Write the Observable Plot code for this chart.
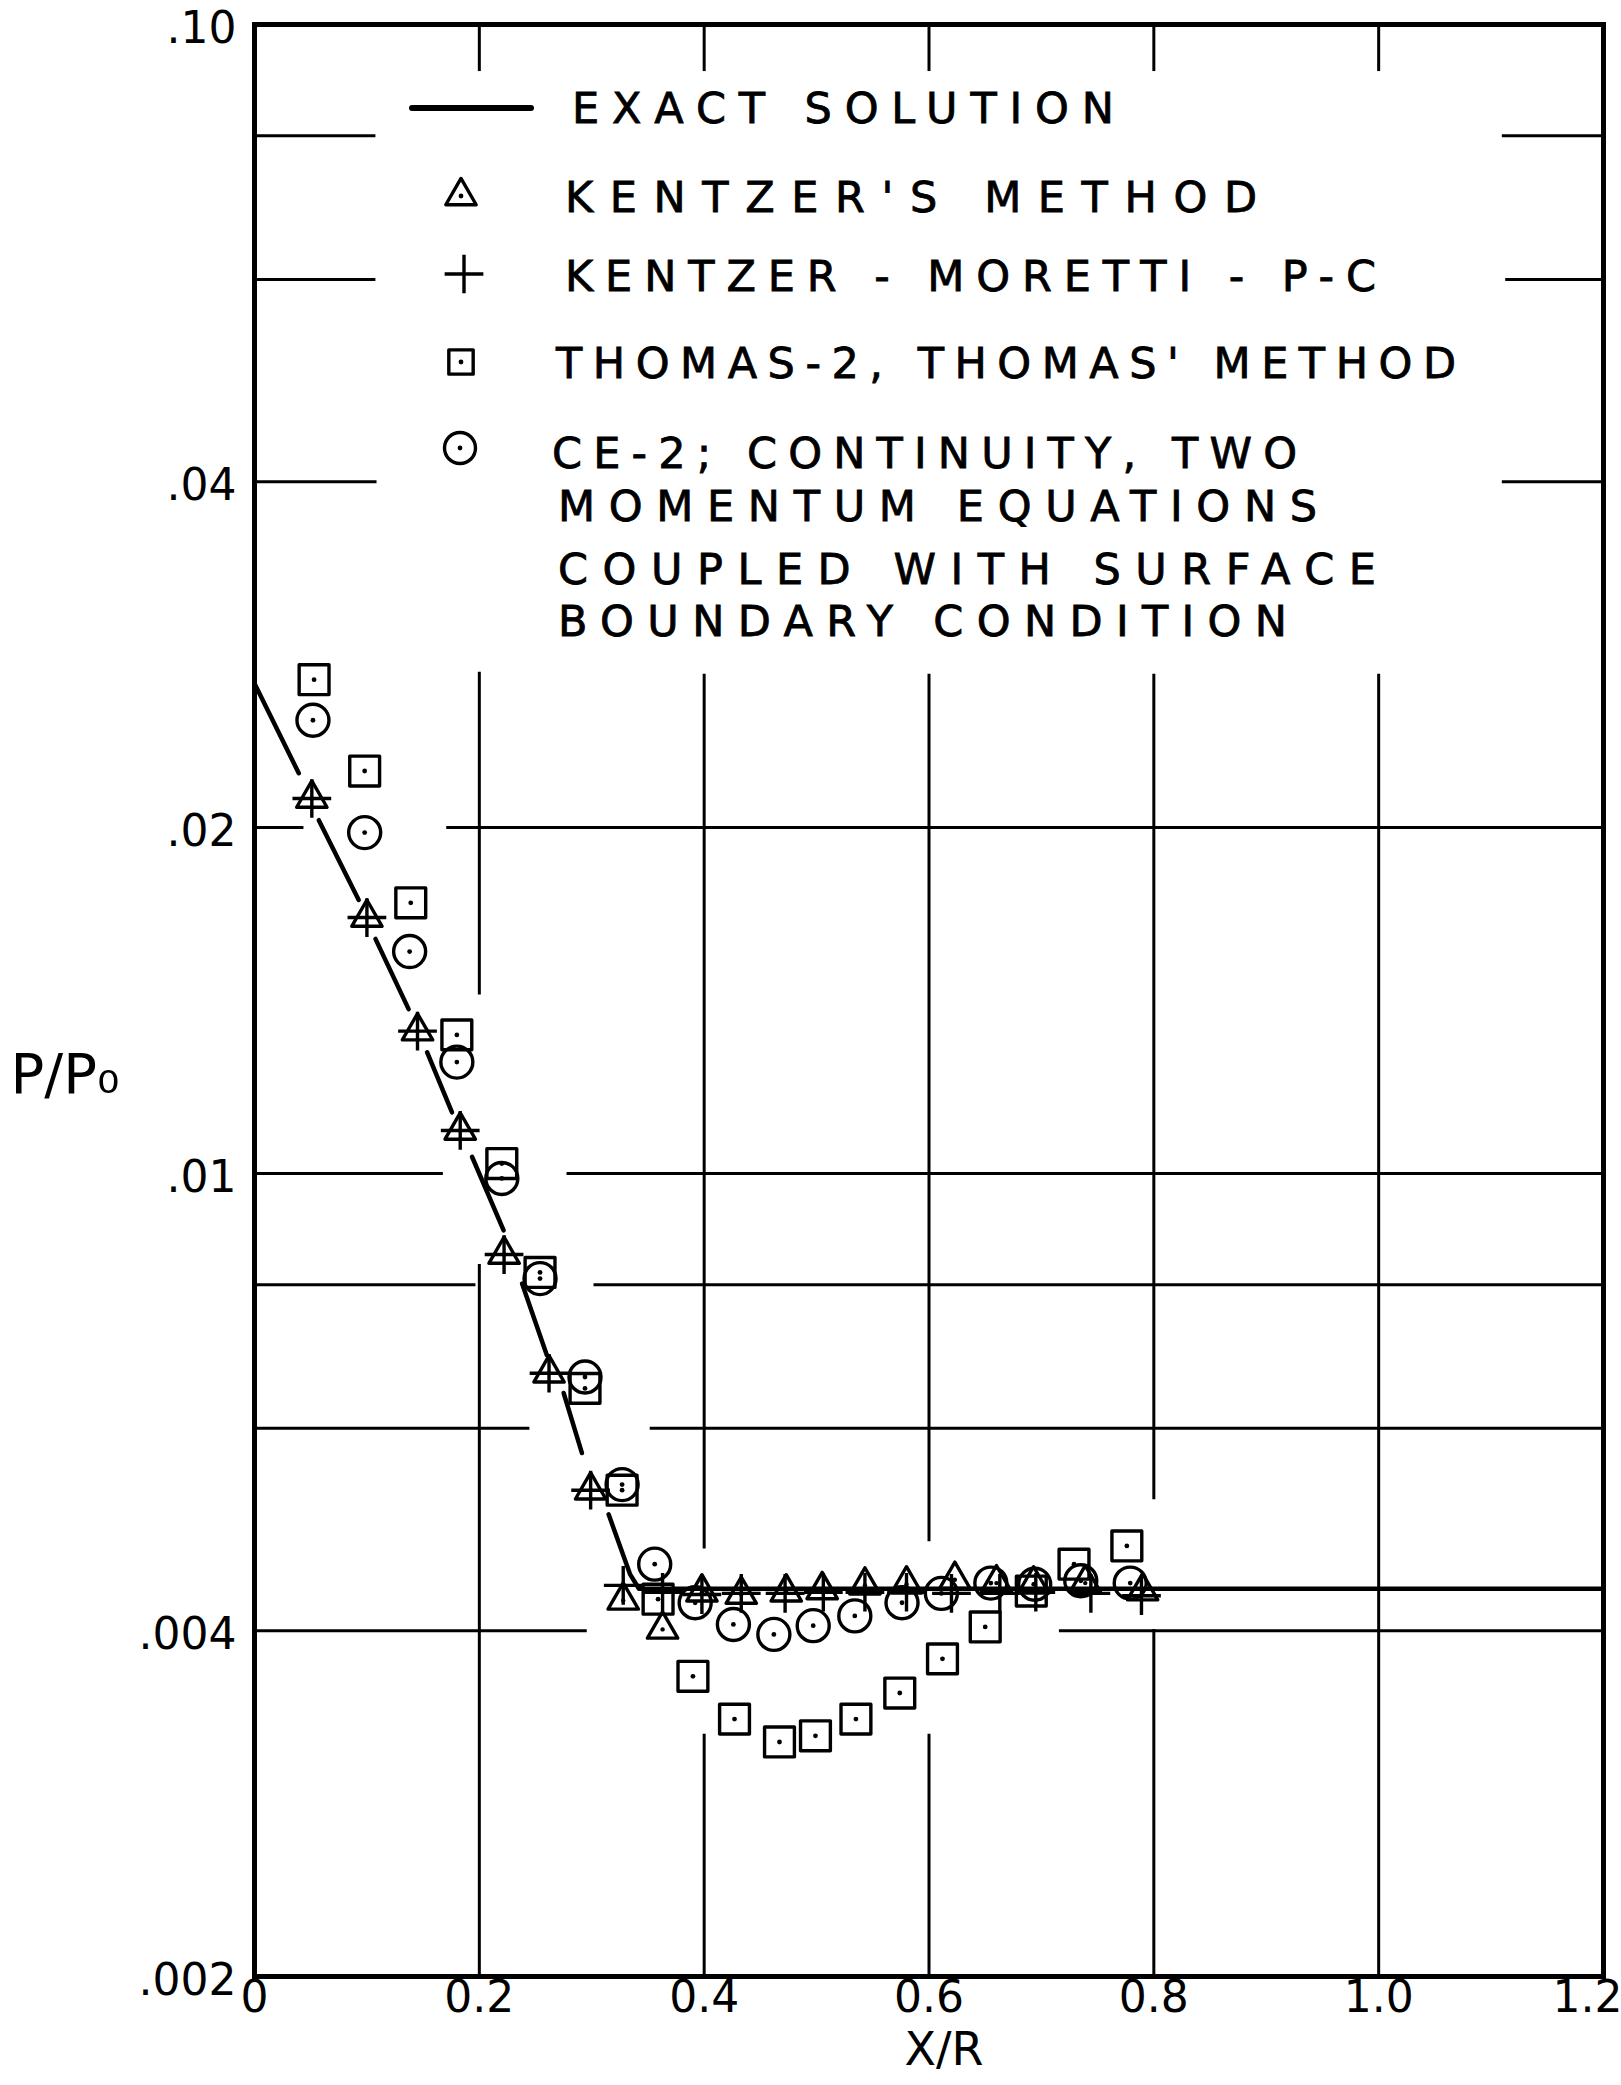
<!DOCTYPE html>
<html><head><meta charset="utf-8">
<script src="https://cdn.jsdelivr.net/npm/d3@7"></script>
<script src="https://cdn.jsdelivr.net/npm/@observablehq/plot@0.6"></script>
<style>
html,body{margin:0;padding:0;background:#fff;}
svg{display:block;}
</style></head><body><div id="chart"></div>
<script>
// ---------- axis ticks ----------
const yTicks = [0.002, 0.004, 0.006, 0.008, 0.01, 0.02, 0.04, 0.06, 0.08, 0.10];
const yTickLabels = [".002", ".004", ".006", ".008", ".01", ".02", ".04", ".06", ".08", ".10"];
const xTicks = [0, 0.2, 0.4, 0.6, 0.8, 1.0, 1.2];
const xTickLabels = ["0", "0.2", "0.4", "0.6", "0.8", "1.0", "1.2"];

// ---------- hand-drawn grid segments (gaps where the data lie) ----------
const hGridV  = [0.08, 0.08, 0.06, 0.06, 0.04, 0.04, 0.02, 0.02, 0.01, 0.01, 0.008, 0.008, 0.006, 0.006, 0.004, 0.004];
const hGridX1 = [0, 1.11, 0, 1.113, 0, 1.11, 0, 0.171, 0, 0.278, 0, 0.302, 0, 0.352, 0, 0.716];
const hGridX2 = [0.108, 1.2, 0.108, 1.2, 0.109, 1.2, 0.044, 1.2, 0.168, 1.2, 0.197, 1.2, 0.245, 1.2, 0.296, 1.2];

const vGridX  = [0.2, 0.2, 0.2, 0.4, 0.4, 0.4, 0.6, 0.6, 0.6, 0.8, 0.8, 0.8, 1.0, 1.0];
const vGridY1 = [0.091, 0.0143, 0.002, 0.091, 0.00471, 0.002, 0.091, 0.00478, 0.002, 0.091, 0.0052, 0.002, 0.091, 0.002];
const vGridY2 = [0.1, 0.0273, 0.00833, 0.1, 0.0272, 0.00325, 0.1, 0.0272, 0.00325, 0.1, 0.0272, 0.00401, 0.1, 0.0272];

// ---------- exact solution (drawn in pieces between the markers) ----------
const exactX   = [0, 0.0394, 0.0572, 0.0927, 0.1076, 0.1371, 0.1535, 0.1757, 0.1935, 0.2216, 0.238, 0.260, 0.275, 0.2913, 0.315, 0.334, 0.342, 1.2];
const exactY   = [0.0267, 0.0223, 0.0203, 0.0173, 0.0160, 0.0139, 0.01275, 0.0113, 0.01034, 0.00892, 0.00802, 0.00695, 0.00644, 0.00571, 0.00505, 0.00448, 0.00435, 0.00435];
const exactSeg = [0, 0, 1, 1, 2, 2, 3, 3, 4, 4, 5, 5, 6, 6, 7, 7, 7, 7];

// ---------- Kentzer's method (triangles) ----------
const triX = [0.051, 0.100, 0.145, 0.183, 0.222, 0.262, 0.299, 0.328, 0.363, 0.398, 0.433, 0.473, 0.505, 0.543, 0.580, 0.623, 0.660, 0.693, 0.739, 0.790];
const triY = [0.0212, 0.0167, 0.0133, 0.0109, 0.0085, 0.0067, 0.0053, 0.00425, 0.00401, 0.00432, 0.00430, 0.00432, 0.00434, 0.00438, 0.00439, 0.00443, 0.00440, 0.00439, 0.00440, 0.00433];

// ---------- Kentzer-Moretti-P-C (plus) ----------
const plusX = [0.051, 0.100, 0.145, 0.183, 0.222, 0.262, 0.299, 0.328, 0.363, 0.398, 0.433, 0.472, 0.506, 0.543, 0.580, 0.620, 0.663, 0.695, 0.744, 0.789];
const plusY = [0.0212, 0.0167, 0.0133, 0.0109, 0.0085, 0.0067, 0.0053, 0.00438, 0.00432, 0.00430, 0.00431, 0.00431, 0.00432, 0.00432, 0.00432, 0.00431, 0.00431, 0.00432, 0.00431, 0.00429];

// ---------- Thomas-2 (squares) ----------
const sqX = [0.053, 0.098, 0.139, 0.180, 0.220, 0.254, 0.294, 0.327, 0.359, 0.390, 0.427, 0.467, 0.499, 0.535, 0.574, 0.612, 0.650, 0.691, 0.729, 0.776];
const sqY = [0.0269, 0.0224, 0.0172, 0.0132, 0.0102, 0.0082, 0.0065, 0.0053, 0.00426, 0.00365, 0.00335, 0.00320, 0.00324, 0.00335, 0.00353, 0.00378, 0.00403, 0.00433, 0.00457, 0.00474];

// ---------- CE-2 (circles) ----------
const circX = [0.052, 0.098, 0.138, 0.180, 0.220, 0.254, 0.294, 0.327, 0.356, 0.392, 0.426, 0.462, 0.497, 0.534, 0.576, 0.611, 0.655, 0.694, 0.735, 0.779];
const circY = [0.0248, 0.0198, 0.0156, 0.0125, 0.0099, 0.0081, 0.00665, 0.00536, 0.00457, 0.00423, 0.00405, 0.00397, 0.00404, 0.00412, 0.00423, 0.00431, 0.00440, 0.00439, 0.00442, 0.00440];

// ---------- legend text ----------
const legendLabels = [
  "EXACT SOLUTION",
  "KENTZER'S METHOD",
  "KENTZER - MORETTI - P-C",
  "THOMAS-2, THOMAS' METHOD",
  "CE-2; CONTINUITY, TWO",
  "MOMENTUM EQUATIONS",
  "COUPLED WITH SURFACE",
  "BOUNDARY CONDITION"
];
const yAxisLabel = "P/P\u2080";
const xAxisLabel = "X/R";

// ---------- build tables ----------
const zip = (xs, ys) => xs.map((x, i) => ({x, y: ys[i]}));
const hGrid = hGridV.map((v, i) => ({v, x1: hGridX1[i], x2: hGridX2[i]}));
const vGrid = vGridX.map((x, i) => ({x, y1: vGridY1[i], y2: vGridY2[i]}));
const exact = exactX.map((x, i) => ({x, y: exactY[i], seg: exactSeg[i]}));
const tri = zip(triX, triY), plus = zip(plusX, plusY), sq = zip(sqX, sqY), circ = zip(circX, circY);
const yFmt = new Map(yTicks.map((t, i) => [t, yTickLabels[i]]));
const xFmt = new Map(xTicks.map((t, i) => [t, xTickLabels[i]]));
const lastX = xTicks[xTicks.length - 1];

const FONT = "'DejaVu Sans', 'Liberation Sans', sans-serif";
const SW = 3.4;
const R = {tri: 14.5, plus: 12.5, sq: 19, circ: 16};

const chart = Plot.plot({
  width: 1621,
  height: 2085,
  marginLeft: 254,
  marginRight: 18,
  marginTop: 24,
  marginBottom: 109,
  x: {domain: [0, 1.2], axis: null},
  y: {type: "log", domain: [0.002, 0.1], axis: null},
  style: {fontFamily: FONT, background: "white", color: "black"},
  marks: [
    Plot.ruleY(hGrid, {y: "v", x1: "x1", x2: "x2", stroke: "black", strokeWidth: 3}),
    Plot.ruleX(vGrid, {x: "x", y1: "y1", y2: "y2", stroke: "black", strokeWidth: 3}),
    Plot.frame({stroke: "black", strokeWidth: 5}),
    Plot.line(exact, {x: "x", y: "y", z: "seg", stroke: "black", strokeWidth: 4.5, strokeLinecap: "round", strokeLinejoin: "round"}),
    Plot.dot(sq, {x: "x", y: "y", symbol: "square2", r: R.sq, stroke: "black", fill: "none", strokeWidth: SW, strokeLinejoin: "round"}),
    Plot.dot(sq, {x: "x", y: "y", r: 2.4, fill: "black", stroke: "none"}),
    Plot.dot(circ, {x: "x", y: "y", symbol: "circle", r: R.circ, stroke: "black", fill: "none", strokeWidth: SW}),
    Plot.dot(circ, {x: "x", y: "y", r: 2.4, fill: "black", stroke: "none"}),
    Plot.dot(tri, {x: "x", y: "y", symbol: "triangle2", r: R.tri, stroke: "black", fill: "none", strokeWidth: SW, strokeLinejoin: "round"}),
    Plot.dot(tri, {x: "x", y: "y", r: 2.2, fill: "black", stroke: "none"}),
    Plot.dot(plus, {x: "x", y: "y", symbol: "plus", r: R.plus, stroke: "black", fill: "none", strokeWidth: SW}),
    Plot.axisY({ticks: yTicks, tickFormat: d => yFmt.get(d), tickSize: 0, tickPadding: 18, dy: 4, fontSize: 44, label: null}),
    Plot.axisX({ticks: xTicks.filter(t => t !== lastX), tickFormat: d => xFmt.get(d), tickSize: 0, tickPadding: 4, fontSize: 44, label: null}),
    Plot.axisX({ticks: [lastX], tickFormat: d => xFmt.get(d), tickSize: 0, tickPadding: 4, dx: -16, fontSize: 44, label: null}),
    Plot.text([yAxisLabel], {frameAnchor: "left", text: d => d, textAnchor: "start", dx: -244, dy: 75, fontSize: 56}),
    Plot.text([xAxisLabel], {frameAnchor: "bottom", text: d => d, textAnchor: "middle", dx: 15, dy: 88, fontSize: 46})
  ]
});

// ---------- legend inside the frame (pixel layout) ----------
const legendLayout = [
  {sym: null,                 sx: 0,   sy: 0,   tx: 572, ty: 123, w: 542},
  {sym: d3.symbolTriangle2,   sx: 461, sy: 196, tx: 565, ty: 212, w: 692, r: R.tri,  dot: true},
  {sym: d3.symbolPlus,        sx: 464, sy: 274, tx: 565, ty: 291, w: 811, r: 12.5},
  {sym: d3.symbolSquare2,     sx: 461, sy: 362, tx: 556, ty: 378, w: 900, r: 15.5,   dot: true},
  {sym: d3.symbolCircle,      sx: 460, sy: 448, tx: 552, ty: 468, w: 745, r: 15.5,   dot: true},
  {sym: null,                 sx: 0,   sy: 0,   tx: 558, ty: 521, w: 759},
  {sym: null,                 sx: 0,   sy: 0,   tx: 558, ty: 584, w: 818},
  {sym: null,                 sx: 0,   sy: 0,   tx: 558, ty: 636, w: 729}
];
const svg = d3.select(chart);
const lg = svg.append("g")
  .attr("font-family", FONT).attr("font-size", 43)
  .attr("text-anchor", "start").attr("fill", "black");
lg.append("line").attr("x1", 412).attr("x2", 531).attr("y1", 108).attr("y2", 108)
  .attr("stroke", "black").attr("stroke-width", 6).attr("stroke-linecap", "round");
legendLabels.forEach((label, i) => {
  const L = legendLayout[i];
  if (L.sym) {
    lg.append("path")
      .attr("d", d3.symbol(L.sym, Math.PI * L.r * L.r)())
      .attr("transform", `translate(${L.sx},${L.sy})`)
      .attr("fill", "none").attr("stroke", "black").attr("stroke-width", SW).attr("stroke-linejoin", "round");
    if (L.dot) lg.append("circle").attr("cx", L.sx).attr("cy", L.sy).attr("r", 2.4).attr("fill", "black");
  }
  lg.append("text").attr("x", L.tx).attr("y", L.ty)
    .attr("text-anchor", "start")
    .attr("stroke", "black").attr("stroke-width", 0.8)
    .attr("textLength", L.w).attr("lengthAdjust", "spacing")
    .text(label);
});

document.getElementById("chart").appendChild(chart);
</script>
</body></html>
